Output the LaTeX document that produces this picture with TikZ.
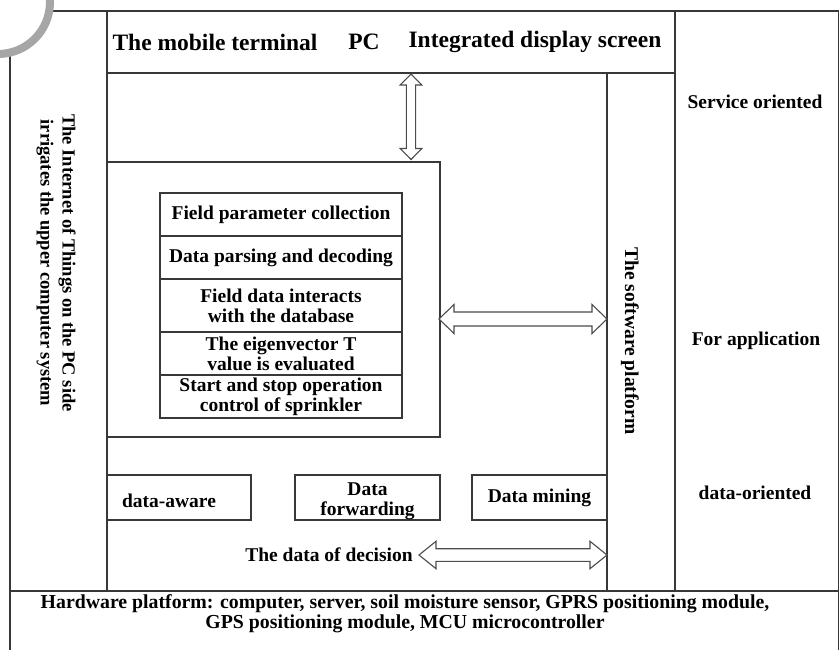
\documentclass[tikz,border=0pt]{standalone}
\usepackage{fontspec}
\setmainfont{Liberation Serif}
\usetikzlibrary{calc}
\newcommand\vdarrow[5]{\draw[arr] (#1) -- ($(#1)+(#4,#5)$) -- ($(#1)+(#3,#5)$) -- ($(#2)+(#3,-#5)$) -- ($(#2)+(#4,-#5)$) -- (#2) -- ($(#2)+(-#4,-#5)$) -- ($(#2)+(-#3,-#5)$) -- ($(#1)+(-#3,#5)$) -- ($(#1)+(-#4,#5)$) -- cycle;}
\newcommand\hdarrow[5]{\draw[arr] (#1) -- ($(#1)+(#5,-#4)$) -- ($(#1)+(#5,-#3)$) -- ($(#2)+(-#5,-#3)$) -- ($(#2)+(-#5,-#4)$) -- (#2) -- ($(#2)+(-#5,#4)$) -- ($(#2)+(-#5,#3)$) -- ($(#1)+(#5,#3)$) -- ($(#1)+(#5,#4)$) -- cycle;}
\begin{document}
\begin{tikzpicture}[x=1pt,y=-1pt,
  ln/.style={draw=black!78, line width=1.5pt},
  box/.style={ln, rectangle, inner sep=0pt, outer sep=0pt, anchor=north west, align=center,
    font=\bfseries\fontsize{19.5}{20}\selectfont},
  txt/.style={font=\bfseries\fontsize{19.5}{20}\selectfont, inner sep=0pt, align=center},
  toptxt/.style={font=\bfseries\fontsize{23.5}{24}\selectfont, inner sep=0pt},
  arr/.style={draw=black!70, line width=1.1pt, fill=white, line join=miter},
]
\useasboundingbox (0,0) rectangle (840,649);
\clip (0,0) rectangle (840,649);

% frame and columns
\node[box, minimum width=828.5, minimum height=650] (frame) at (10,11) {};
\node[box, minimum width=97, minimum height=580] (leftcol) at (10,11) {};
\node[box, minimum width=568, minimum height=62] (topbar) at (107,11) {};
\node[box, minimum width=163.5, minimum height=580] (rightcol) at (675,11) {};
\node[box, minimum width=68, minimum height=518] (soft) at (607,73) {};
\node[box, minimum width=828.5, minimum height=70] (hw) at (10,591) {};

% inner box and stack
\node[box, minimum width=333, minimum height=275] (inner) at (107,162) {};
\node[box, minimum width=242, minimum height=43] (r1) at (160,193) {Field parameter collection};
\node[box, minimum width=242, minimum height=43] (r2) at (160,236) {Data parsing and decoding};
\node[box, minimum width=242, minimum height=53] (r3) at (160,279) {Field data interacts\\with the database};
\node[box, minimum width=242, minimum height=43] (r4) at (160,332) {The eigenvector T\\value is evaluated};
\node[box, minimum width=242, minimum height=43] (r5) at (160,375) {Start and stop operation\\control of sprinkler};

% bottom boxes
\node[box, minimum width=144, minimum height=45] (aware) at (107,475) {};
\node[txt] (awaret) at (169,501) {data-aware};
\node[box, minimum width=145, minimum height=45] (fwd) at (295,475) {};
\node[txt] (fwdt) at (367.5,501) {Data\\forwarding};
\node[box, minimum width=135, minimum height=45] (mining) at (472,475) {Data mining};

% texts
\node[toptxt] (t1) at (215,42) {The mobile terminal};
\node[toptxt] (t2) at (364,42) {PC};
\node[toptxt] (t3) at (535,42) {Integrated display screen};
\node[font=\bfseries\fontsize{18.5}{22}\selectfont, align=center, inner sep=0pt, rotate=-90] (iot) at (56,263)
  {The Internet of Things on the PC side\\irrigates the upper computer system};
\node[txt, rotate=-90] (softt) at (630,341) {The software platform};
\node[txt] (so) at (755,102) {Service oriented};
\node[txt] (fa) at (756,341) {For application};
\node[txt] (do) at (755,493) {data-oriented};
\node[txt] (dec) at (329,555) {The data of decision};
\node[font=\bfseries\fontsize{19.8}{20}\selectfont, align=center, inner sep=0pt] (hwt) at (405,614)
  {Hardware platform: computer, server, soil moisture sensor, GPRS positioning module,\\GPS positioning module, MCU microcontroller};

% double arrows
\coordinate (va) at (411,74);
\coordinate (vb) at (411,159.5);
\vdarrow{va}{vb}{4.6}{10.8}{11}
\coordinate (ha) at (439,319);
\coordinate (hb) at (607,319);
\hdarrow{ha}{hb}{7}{14.5}{15}
\coordinate (da) at (419,555);
\coordinate (db) at (607,555);
\hdarrow{da}{db}{6.3}{13.7}{17}

% grey arc at the corner
\draw[line width=8pt, draw=gray!70, fill=white] (-2,2) circle[radius=52];
\end{tikzpicture}
\end{document}
